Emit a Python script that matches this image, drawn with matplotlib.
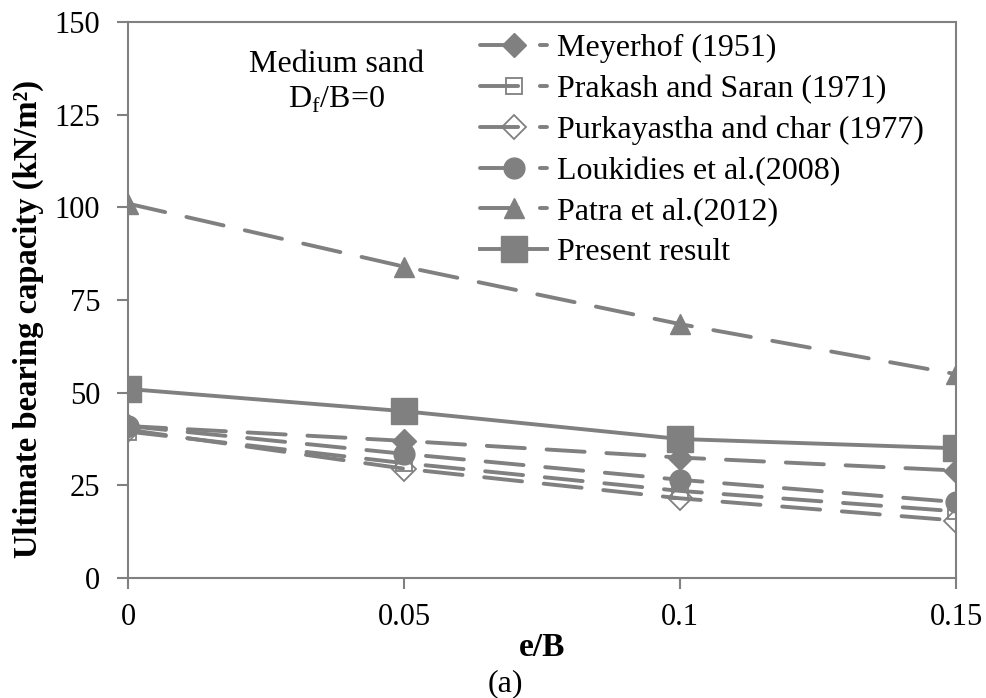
import matplotlib.pyplot as plt

plt.rcParams["font.family"] = ["Liberation Serif", "DejaVu Serif"]
plt.rcParams["mathtext.fontset"] = "custom"
plt.rcParams["mathtext.rm"] = "Liberation Serif"

# %%
e_B = [0, 0.05, 0.1, 0.15]

meyerhof = [41, 37, 32.5, 29]
prakash = [39.5, 31, 23.5, 18]
purkayastha = [40, 29.5, 21.5, 15.5]
loukidies = [41, 33.5, 26.5, 20.5]
patra = [101, 84, 68.5, 55]
present = [51, 45, 37.5, 35]

labels = [
    "Meyerhof (1951)",
    "Prakash and Saran (1971)",
    "Purkayastha and char (1977)",
    "Loukidies et al.(2008)",
    "Patra et al.(2012)",
    "Present result",
]

# %%
grey = "#808080"
fs = 23
fig = plt.figure(figsize=(9.87, 6.98), dpi=100)
ax = fig.add_axes([0.1297, 0.1719, 0.8389, 0.7966])

dash = dict(ls=(0, (9.8, 5.6)), dash_capstyle="round")
lw = 2.8

ax.plot(e_B, meyerhof, color=grey, lw=lw, marker="D", ms=12, mfc=grey, mec=grey, label=labels[0], **dash)
ax.plot(e_B, prakash, color=grey, lw=lw, marker="s", ms=12, mfc="none", mec=grey, mew=1.3, label=labels[1], **dash)
ax.plot(e_B, purkayastha, color=grey, lw=lw, marker="D", ms=12, mfc="none", mec=grey, mew=1.3, label=labels[2], **dash)
ax.plot(e_B, loukidies, color=grey, lw=lw, marker="o", ms=15, mfc=grey, mec=grey, label=labels[3], **dash)
ax.plot(e_B, patra, color=grey, lw=lw, marker="^", ms=15, mfc=grey, mec=grey, label=labels[4], **dash)
ax.plot(e_B, present, color=grey, lw=lw, marker="s", ms=19, mfc=grey, mec=grey, label=labels[5])

ax.set_xlim(0, 0.15)
ax.set_ylim(0, 150)
ax.set_xticks(e_B)
ax.set_xticklabels(["0", "0.05", "0.1", "0.15"])
ax.set_yticks(range(0, 151, 25))

for s in ax.spines.values():
    s.set_color(grey)
    s.set_linewidth(1.5)
ax.tick_params(axis="both", colors=grey, labelcolor="black", labelsize=22, width=1.5, length=8, direction="out")
ax.tick_params(axis="x", pad=10)
ax.tick_params(axis="y", pad=12)

ax.set_xlabel("e/B", fontsize=24, fontweight="bold", labelpad=0)
ax.set_ylabel("Ultimate bearing capacity (kN/m²)", fontsize=23.5, fontweight="bold")
ax.yaxis.set_label_coords(-0.101, 0.466)

ax.text(0.0377, 138.4, "Medium sand", fontsize=fs, ha="center", va="center")
ax.text(0.0377, 129, r"D$_\mathregular{f}$/B=0", fontsize=fs, ha="center", va="center")

fig.text(0.512, 0.021, "(a)", fontsize=fs, ha="center", va="center")

ax.legend(
    loc="upper left",
    bbox_to_anchor=(0.41, 1.002),
    frameon=False,
    fontsize=fs,
    handlelength=2.1,
    handletextpad=0.3,
    labelspacing=0.36,
    borderaxespad=0,
)

fig.savefig("out.png", dpi=100)
